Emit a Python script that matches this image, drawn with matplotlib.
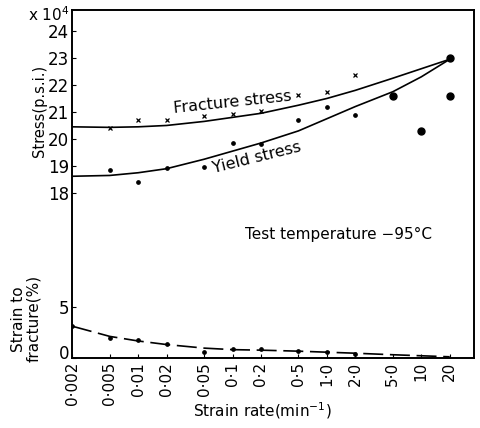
import numpy as np
import matplotlib
matplotlib.use("Agg")
import matplotlib.pyplot as plt
import matplotlib.transforms as mtransforms

plt.rcParams['font.family'] = ['DejaVu Sans']

# strain rate tick positions (min^-1) and their printed labels
rate_ticks = [0.002, 0.005, 0.01, 0.02, 0.05, 0.1, 0.2, 0.5, 1, 2, 5, 10, 20]
rate_labels = ["0·002", "0·005", "0·01", "0·02", "0·05", "0·1", "0·2",
               "0·5", "1·0", "2·0", "5·0", "10", "20"]

# fitted curves (stress in 10^4 p.s.i.)
curve_rate = [0.002, 0.005, 0.01, 0.02, 0.05, 0.1, 0.2, 0.5, 1, 2, 5, 10, 20]
fracture_curve = [20.45, 20.43, 20.45, 20.5, 20.65, 20.8, 20.95, 21.25, 21.5, 21.8, 22.25, 22.6, 22.95]
yield_curve = [18.62, 18.65, 18.75, 18.9, 19.25, 19.55, 19.85, 20.3, 20.75, 21.2, 21.75, 22.3, 22.95]
strain_curve = [3.1, 2.1, 1.65, 1.3, 0.95, 0.8, 0.75, 0.65, 0.55, 0.45, 0.3, 0.2, 0.1]

# measured points
fracture_rate = [0.005, 0.01, 0.02, 0.05, 0.1, 0.2, 0.5, 1, 2]
fracture_stress = [20.4, 20.7, 20.7, 20.85, 20.92, 21.04, 21.63, 21.74, 22.37]

yield_rate = [0.005, 0.01, 0.02, 0.05, 0.1, 0.2, 0.5, 1, 2]
yield_stress = [18.85, 18.4, 18.93, 18.95, 19.85, 19.8, 20.7, 21.2, 20.9]

brittle_rate = [5, 10, 20, 20]
brittle_stress = [21.6, 20.3, 21.6, 23.0]

strain_rate = [0.002, 0.005, 0.01, 0.02, 0.05, 0.1, 0.2, 0.5, 1, 2]
strain_pct = [3.1, 1.9, 1.7, 1.4, 0.6, 0.85, 0.9, 0.7, 0.6, 0.4]

fig = plt.figure(figsize=(4.81, 4.28), dpi=100)
ax = fig.add_axes([0.150, 0.164, 0.835, 0.813])

# stress part
ax.plot(curve_rate, fracture_curve, color="black", lw=1.2)
ax.plot(curve_rate, yield_curve, color="black", lw=1.2)
ax.plot(fracture_rate, fracture_stress, "x", color="black", ms=3.5, mew=0.9)
ax.plot(yield_rate, yield_stress, "o", color="black", ms=2.4)
ax.plot(brittle_rate, brittle_stress, "o", color="black", ms=5)

ax.set_xscale("log")
ax.set_xlim(0.002, 36)
ax.set_ylim(11.9, 24.78)
ax.set_yticks([18, 19, 20, 21, 22, 23, 24])
ax.tick_params(axis="y", direction="in", length=3, labelsize=12, pad=2)
ax.set_xticks(rate_ticks)
ax.set_xticklabels(rate_labels, rotation=90)
ax.xaxis.set_minor_locator(matplotlib.ticker.NullLocator())
ax.tick_params(axis="x", direction="in", length=3, labelsize=11, pad=3)
for s in ax.spines.values():
    s.set_linewidth(1.4)

# strain to fracture part, same x, own y scale on the left
ax2 = ax.twinx()
ax2.plot(curve_rate, strain_curve, color="black", lw=1.2, ls=(0, (12, 4)))
ax2.plot(strain_rate, strain_pct, "o", color="black", ms=2.4)
ax2.set_ylim(0, 34.1)
ax2.yaxis.tick_left()
ax2.set_yticks([0, 5])
ax2.tick_params(axis="y", direction="in", length=3, labelsize=12, pad=2)
for s in ax2.spines.values():
    s.set_visible(False)
# lift the "0" label a little so it clears the x tick labels
lab0 = ax2.get_yticklabels()[0]
lab0.set_transform(lab0.get_transform() +
                   mtransforms.ScaledTranslation(0, 4 / 72, fig.dpi_scale_trans))

# labels
fig.text(0.058, 0.965, "x 10$^4$", fontsize=11, ha="left", va="center")
fig.text(0.082, 0.74, "Stress(p.s.i.)", rotation=90, fontsize=10.5,
         ha="center", va="center")
fig.text(0.055, 0.255, "Strain to\nfracture(%)", rotation=90, fontsize=11,
         ha="center", va="center", linespacing=1.0)
fig.text(0.545, 0.04, "Strain rate(min$^{-1}$)", fontsize=11,
         ha="center", va="center")

ax.text(0.1, 21.35, "Fracture stress", rotation=6, fontsize=11.5,
        ha="center", va="center")
ax.text(0.18, 19.3, "Yield stress", rotation=14, fontsize=11.5,
        ha="center", va="center")
ax.text(1.34, 16.45, "Test temperature \u221295\u00b0C", fontsize=11,
        ha="center", va="center")

fig.savefig("out.png", dpi=100)
